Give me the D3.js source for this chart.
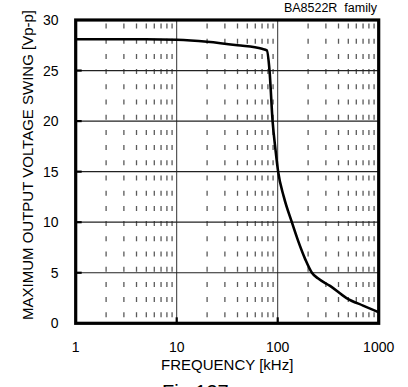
<!DOCTYPE html>
<html><head><meta charset="utf-8">
<script src="https://cdn.jsdelivr.net/npm/d3@7"></script>
<style>html,body{margin:0;padding:0;background:#fff;} svg{display:block;font-family:"Liberation Sans",Arial,sans-serif;}</style>
</head><body>
<script>
// ---- data ----
const freqTicks = [1, 10, 100, 1000];
const voltTicks = [0, 5, 10, 15, 20, 25, 30];
const minorMultipliers = [2, 3, 4, 5, 6, 7, 8, 9];
const freqKHz = [1, 5, 10, 20, 40, 70, 78, 83, 89, 95, 101, 115, 138, 160, 188, 218, 250, 330, 480, 700, 1000];
const swingVpp = [28.1, 28.1, 28.05, 27.85, 27.5, 27.15, 27.0, 25.0, 20.0, 17.2, 15.0, 12.5, 10.0, 8.1, 6.3, 5.0, 4.45, 3.7, 2.5, 1.75, 1.1];
const titleText = "BA8522R  family";
const xLabel = "FREQUENCY [kHz]";
const yLabel = "MAXIMUM OUTPUT VOLTAGE SWING [Vp-p]";
const figText = "Fig.137";

const W = 408, H = 387;
const m = {left: 75.7, right: 408 - 378.7, top: 20, bottom: 387 - 323.3};
const svg = d3.select("body").append("svg").attr("width", W).attr("height", H);

const x = d3.scaleLog().domain([1, 1000]).range([m.left, W - m.right]);
const y = d3.scaleLinear().domain([0, 30]).range([H - m.bottom, m.top]);

const g = svg.append("g");

// minor dashed vertical grid
const minorFreqs = [];
[1, 10, 100].forEach(dec => minorMultipliers.forEach(k => minorFreqs.push(dec * k)));
g.selectAll("line.minor").data(minorFreqs).enter().append("line")
  .attr("x1", d => x(d)).attr("x2", d => x(d))
  .attr("y1", y(0)).attr("y2", y(30))
  .attr("stroke", "#5a5a5a").attr("stroke-width", 1.3)
  .attr("stroke-dasharray", "5,10.2").attr("stroke-dashoffset", 9.2);

// major vertical grid
g.selectAll("line.vmaj").data([10, 100]).enter().append("line")
  .attr("x1", d => x(d)).attr("x2", d => x(d))
  .attr("y1", y(0)).attr("y2", y(30))
  .attr("stroke", "#333").attr("stroke-width", 1);

// horizontal grid
g.selectAll("line.hmaj").data(voltTicks.filter(v => v > 0 && v < 30)).enter().append("line")
  .attr("x1", x(1)).attr("x2", x(1000))
  .attr("y1", d => y(d)).attr("y2", d => y(d))
  .attr("stroke", "#222").attr("stroke-width", 1.2);

// inner tick marks
g.selectAll("line.ytk").data(voltTicks.filter(v => v > 0 && v < 30)).enter().append("line")
  .attr("x1", x(1)).attr("x2", x(1) + 6)
  .attr("y1", d => y(d)).attr("y2", d => y(d))
  .attr("stroke", "#000").attr("stroke-width", 2.2);
g.selectAll("line.xtk").data([10, 100]).enter().append("line")
  .attr("x1", d => x(d)).attr("x2", d => x(d))
  .attr("y1", y(0)).attr("y2", y(0) - 6)
  .attr("stroke", "#000").attr("stroke-width", 2.2);

// curve
svg.append("clipPath").attr("id", "clip").append("rect")
  .attr("x", x(1)).attr("y", y(30)).attr("width", x(1000) - x(1)).attr("height", y(0) - y(30));
const line = d3.line().x(d => x(d[0])).y(d => y(d[1])).curve(d3.curveMonotoneX);
g.append("path").datum(d3.zip(freqKHz, swingVpp))
  .attr("d", line).attr("fill", "none").attr("stroke", "#000").attr("stroke-width", 2.6)
  .attr("stroke-linejoin", "round").attr("clip-path", "url(#clip)");

// frame
g.append("rect").attr("x", x(1)).attr("y", y(30))
  .attr("width", x(1000) - x(1)).attr("height", y(0) - y(30))
  .attr("fill", "none").attr("stroke", "#000").attr("stroke-width", 3.2);

// tick labels
g.selectAll("text.yl").data(voltTicks).enter().append("text")
  .attr("x", 58.5).attr("y", d => y(d)).attr("dy", "0.36em")
  .attr("text-anchor", "end").attr("font-size", 14).text(d => d);
g.selectAll("text.xl").data(freqTicks).enter().append("text")
  .attr("x", d => x(d)).attr("y", 351.7)
  .attr("text-anchor", "middle").attr("font-size", 14).text(d => d);

// axis titles
svg.append("text").attr("x", (x(1) + x(1000)) / 2).attr("y", 369.5)
  .attr("text-anchor", "middle").attr("font-size", 15).text(xLabel);
svg.append("text").attr("transform", "translate(33,165) rotate(-90)")
  .attr("text-anchor", "middle").attr("font-size", 15).text(yLabel);
svg.append("text").attr("x", 377).attr("y", 12)
  .attr("text-anchor", "end").attr("font-size", 12.5)
  .style("white-space", "pre").text(titleText);
svg.append("text").attr("x", 162).attr("y", 399)
  .attr("text-anchor", "start").attr("font-size", 20).text(figText);
</script>
</body></html>
